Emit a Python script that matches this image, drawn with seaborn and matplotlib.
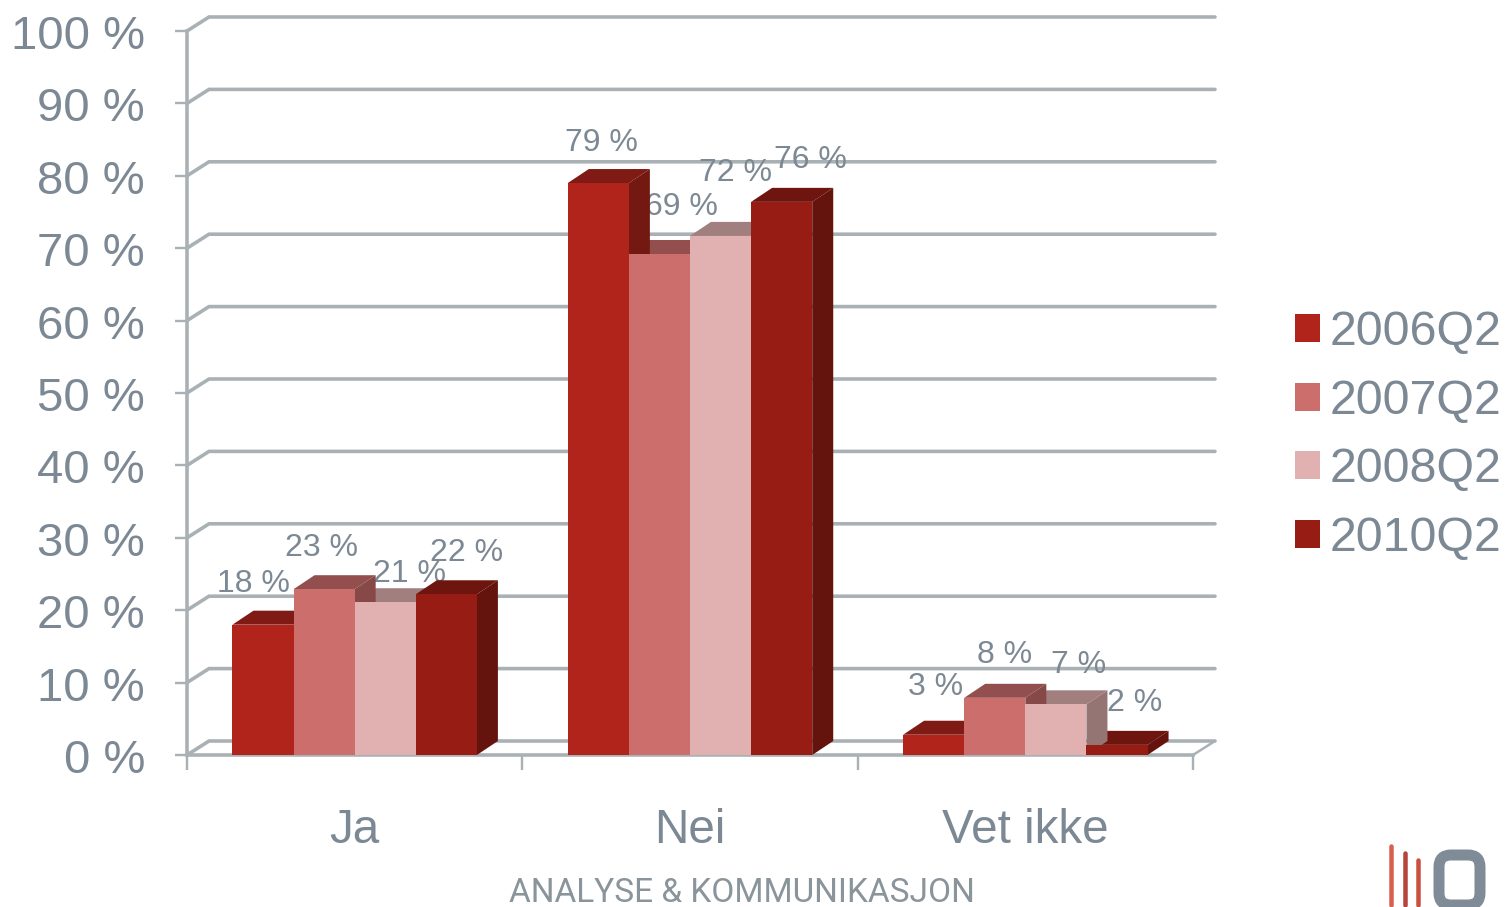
import matplotlib
matplotlib.use('Agg')
import matplotlib.colors as mcolors
import matplotlib.pyplot as plt
import pandas as pd
import seaborn as sns
from matplotlib.lines import Line2D
from matplotlib.patches import FancyBboxPatch, Polygon
from matplotlib.transforms import ScaledTranslation

categories = ['Ja', 'Nei', 'Vet ikke']
periods = ['2006Q2', '2007Q2', '2008Q2', '2010Q2']
values_2006 = [18.0, 79.0, 2.8]
values_2007 = [22.9, 69.2, 7.9]
values_2008 = [21.1, 71.7, 7.0]
values_2010 = [22.2, 76.4, 1.4]
labels_2006 = ['18 %', '79 %', '3 %']
labels_2007 = ['23 %', '69 %', '8 %']
labels_2008 = ['21 %', '72 %', '7 %']
labels_2010 = ['22 %', '76 %', '2 %']
y_ticks = [0, 10, 20, 30, 40, 50, 60, 70, 80, 90, 100]

colors = ['#B0241C', '#CC6E6C', '#E1B0B0', '#971D14']
grid_color = '#A9B1B5'
text_color = '#7C8994'

# label offsets from the bar's top centre, in pixels (the original has them hand placed)
label_nudge = [
    [(-10, 41), (3, 40), (2, 48)],
    [(-3, 41), (22, 47), (10, 43)],
    [(24, 28), (15, 63), (23, 39)],
    [(20, 41), (29, 42), (18, 42)],
]

FIG_W, FIG_H = 1506, 907
X_LEFT, X_RIGHT, Y_ZERO, Y_FULL = 187, 1193, 755, 31
PX_X = (X_RIGHT - X_LEFT) / 3
PX_Y = (Y_ZERO - Y_FULL) / 100


def px(v):
    return v * 0.72


def fig_xy(x, y):
    return x / FIG_W, 1 - y / FIG_H


sns.set_theme(style='white')
plt.rcParams['font.family'] = ['Liberation Sans', 'DejaVu Sans']

df = pd.DataFrame({
    'category': categories * 4,
    'period': [p for p in periods for _ in categories],
    'value': values_2006 + values_2007 + values_2008 + values_2010,
})

fig = plt.figure(figsize=(FIG_W / 100, FIG_H / 100), dpi=100)
ax = fig.add_axes([X_LEFT / FIG_W, 1 - Y_ZERO / FIG_H, (X_RIGHT - X_LEFT) / FIG_W, (Y_ZERO - Y_FULL) / FIG_H])
sns.barplot(data=df, x='category', y='value', hue='period', order=categories, hue_order=periods,
            palette=colors, saturation=1, width=0.729, gap=0, errorbar=None, linewidth=0, ax=ax)

ax.set_xlim(-0.5, 2.5)
ax.set_ylim(0, 100)
ax.set_xlabel('')
ax.set_ylabel('')

# back wall of the fake 3D chart
wall_dx = 22 / PX_X
wall_dy = 14 / PX_Y
for v in y_ticks:
    ax.plot([-0.5, -0.5 + wall_dx, 2.5 + wall_dx], [v, v + wall_dy, v + wall_dy], color=grid_color,
            lw=px(3.6), clip_on=False, zorder=1, solid_joinstyle='miter')
ax.plot([2.5, 2.5 + wall_dx], [0, wall_dy], color=grid_color, lw=px(2.5), clip_on=False, zorder=1)

# bar depth
bar_dx = 21 / PX_X
bar_dy = 14 / PX_Y
all_labels = [labels_2006, labels_2007, labels_2008, labels_2010]
for i, container in enumerate(ax.containers):
    for j, bar in enumerate(container):
        x0 = bar.get_x()
        x1 = x0 + bar.get_width()
        h = bar.get_height()
        base = mcolors.to_rgb(colors[i])
        top_color = tuple(c * 0.72 for c in base)
        side_color = tuple(c * 0.66 for c in base)
        # side sinks behind the next bar's top when that bar is taller
        next_taller = i < 3 and ax.containers[i + 1][j].get_height() > h
        side_z = 3 * i + 3.4 if next_taller else 3 * i + 4
        ax.add_patch(Polygon([(x0, h), (x1, h), (x1 + bar_dx, h + bar_dy), (x0 + bar_dx, h + bar_dy)],
                             closed=True, fc=top_color, ec='none', clip_on=False, zorder=3 * i + 0.5))
        ax.add_patch(Polygon([(x1, 0), (x1, h), (x1 + bar_dx, h + bar_dy), (x1 + bar_dx, bar_dy)],
                             closed=True, fc=side_color, ec='none', clip_on=False, zorder=side_z))
        bar.set_zorder(3 * i + 5)
        nx, ny = label_nudge[i][j]
        ax.annotate(all_labels[i][j], xy=(x0 + bar.get_width() / 2, h), xytext=(px(nx), px(ny)),
                    textcoords='offset points', ha='center', va='center', fontsize=23,
                    color=text_color, annotation_clip=False, zorder=3 * i + 0.75)

# axes
for name in ['top', 'right']:
    ax.spines[name].set_visible(False)
for name in ['left', 'bottom']:
    ax.spines[name].set_color(grid_color)
    ax.spines[name].set_linewidth(px(3.6))
    ax.spines[name].set_zorder(2)
ax.set_yticks(y_ticks)
ax.set_yticklabels([f'{v} %' for v in y_ticks])
ax.tick_params(axis='y', length=px(12), width=px(2.4), color=grid_color, pad=px(30), labelsize=34,
               labelcolor=text_color, left=True)
ax.set_xticks([0, 1, 2])
ax.set_xticklabels(categories)
ax.set_xticks([-0.5, 0.5, 1.5, 2.5], minor=True)
ax.tick_params(axis='x', which='major', length=0, pad=px(53), labelsize=34.3, labelcolor=text_color)
ax.tick_params(axis='x', which='minor', length=px(15), width=px(2.4), color=grid_color, bottom=True)

# y labels sit a pixel lower in the original
down = ScaledTranslation(0, -px(1) / 72, fig.dpi_scale_trans)
for label in ax.get_yticklabels():
    label.set_transform(label.get_transform() + down)

# legend
handles, leg_labels = ax.get_legend_handles_labels()
ax.legend(handles, leg_labels, loc='center left', bbox_to_anchor=fig_xy(1295, 435.5),
          bbox_transform=fig.transFigure, frameon=False, fontsize=34.8, labelcolor=text_color,
          handlelength=0.52, handleheight=0.52, handletextpad=0.19, labelspacing=0.487, borderpad=0,
          borderaxespad=0)

# footer and logo
fig.text(*fig_xy(742, 893), 'ANALYSE & KOMMUNIKASJON', fontsize=24, color='#8A949B', family='Roboto',
         ha='center', va='center')
for x, y, col in [(1391, 846, '#D9604F'), (1405, 853, '#B5453C'), (1418, 860, '#C9503F')]:
    fig.add_artist(Line2D([x / FIG_W, x / FIG_W], [1 - y / FIG_H, 1 - 905 / FIG_H], color=col, lw=px(4.5)))
x0, y0 = fig_xy(1439, 905)
x1, y1 = fig_xy(1480, 855)
fig.add_artist(FancyBboxPatch((x0, y0), x1 - x0, y1 - y0, boxstyle='round,pad=0,rounding_size=0.008',
                              transform=fig.transFigure, fc='none', ec='#7F8C98', lw=px(11),
                              mutation_aspect=FIG_W / FIG_H, clip_on=True))

plt.savefig('out.png', dpi=100)
plt.close()
